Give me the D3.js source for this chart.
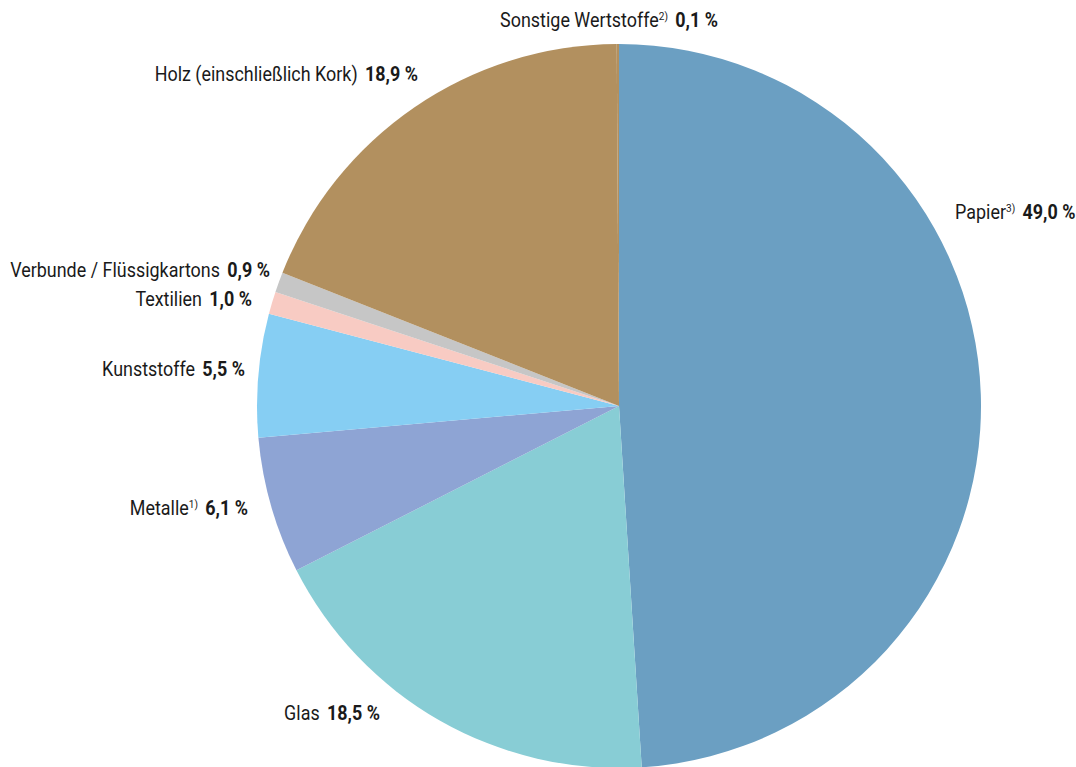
<!DOCTYPE html>
<html>
<head>
<meta charset="utf-8">
<script src="https://cdn.jsdelivr.net/npm/d3@7"></script>
<style>
  html, body { margin: 0; padding: 0; background: #ffffff; }
  svg { display: block; }
  text { font-family: "Roboto", "Liberation Sans", sans-serif; fill: #1a1a1a; }
</style>
</head>
<body>
<svg id="chart" width="1076" height="767"></svg>
<script>
// Anteile der Wertstoffe (Prozent), im Uhrzeigersinn ab 12 Uhr
const categories = ["Papier", "Glas", "Metalle", "Kunststoffe", "Textilien",
                    "Verbunde / Flüssigkartons", "Holz (einschließlich Kork)", "Sonstige Wertstoffe"];
const footnotes  = ["3)", "", "1)", "", "", "", "", "2)"];
const shares     = [49.0, 18.5, 6.1, 5.5, 1.0, 0.9, 18.9, 0.1];
const valueLabels = ["49,0 %", "18,5 %", "6,1 %", "5,5 %", "1,0 %", "0,9 %", "18,9 %", "0,1 %"];
const colors     = ["#6b9fc2", "#88cdd5", "#8ea4d4", "#86cef3", "#f8cbc3", "#c6c6c6", "#b2905f", "#b2905f"];

// Beschriftungspositionen: Ankerpunkt und Ausrichtung je Kategorie
const labelLayout = [
  { x: 955, y: 219, anchor: "start" },
  { x: 380, y: 720, anchor: "end" },
  { x: 248, y: 515, anchor: "end" },
  { x: 245, y: 376, anchor: "end" },
  { x: 252, y: 306, anchor: "end" },
  { x: 270, y: 277, anchor: "end" },
  { x: 418, y: 81,  anchor: "end" },
  { x: 718, y: 27,  anchor: "end" }
];

// schmal laufende Schrift: horizontale Stauchung
const condense = 0.92;

const svg = d3.select("#chart");
const cx = 619, cy = 406, radius = 362;

const data = categories.map((c, i) => ({ name: c, value: shares[i], i }));

const pie = d3.pie().value(d => d.value).sort(null);
const arc = d3.arc().innerRadius(0).outerRadius(radius);

const g = svg.append("g").attr("transform", `translate(${cx},${cy})`);
g.selectAll("path")
  .data(pie(data))
  .join("path")
  .attr("d", arc)
  .attr("fill", d => colors[d.data.i]);

// Beschriftungen: Name (normal), Fußnote (hochgestellt), Wert (fett)
const labels = svg.append("g").selectAll("g")
  .data(data)
  .join("g")
  .attr("transform", d => `translate(${labelLayout[d.i].x},${labelLayout[d.i].y}) scale(${condense},1)`)
  .append("text")
  .attr("text-anchor", d => labelLayout[d.i].anchor)
  .attr("font-size", 19.5);

labels.append("tspan").text(d => d.name);
labels.filter(d => footnotes[d.i] !== "")
  .append("tspan")
  .attr("font-size", 11)
  .attr("dy", -7)
  .text(d => footnotes[d.i]);
labels.append("tspan")
  .attr("dy", d => footnotes[d.i] !== "" ? 7 : 0)
  .attr("dx", 8)
  .attr("font-weight", "bold")
  .text(d => valueLabels[d.i]);
</script>
</body>
</html>
